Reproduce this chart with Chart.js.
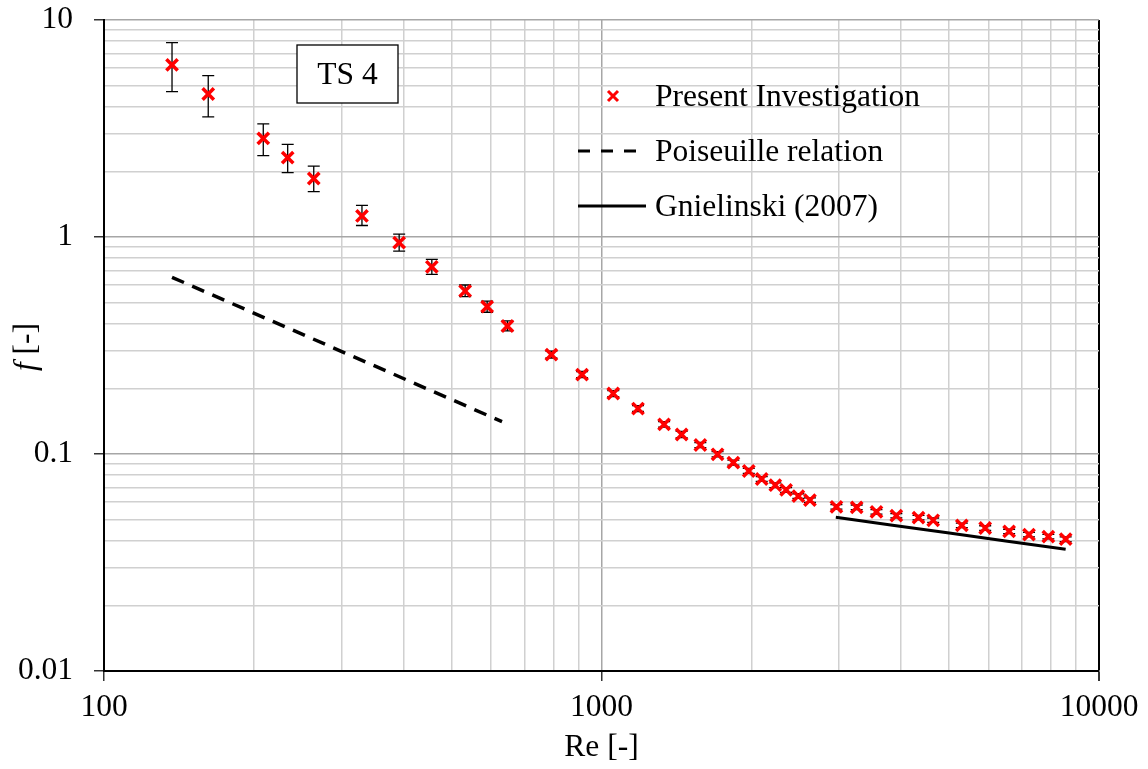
<!DOCTYPE html>
<html>
<head>
<meta charset="utf-8">
<script src="https://cdn.jsdelivr.net/npm/chart.js@4.4.1/dist/chart.umd.min.js"></script>
<style>
    body { margin: 0; background: #fff; }
    #wrap { width: 1148px; height: 769px; }
</style>
</head>
<body>
<div id="wrap"><canvas id="chart" width="1148" height="769"></canvas></div>
<script>
// данные
const reValues = [137, 162, 209, 234, 264, 330, 392, 456, 532, 589, 647, 793, 914, 1056, 1184, 1336, 1449, 1580, 1711, 1841,
    1977, 2099, 2235, 2350, 2487, 2624, 2966, 3258, 3570, 3914, 4337, 4642, 5300, 5905, 6597, 7233, 7910, 8570];
const fValues = [6.21, 4.56, 2.85, 2.32, 1.86, 1.25, 0.942, 0.729, 0.564, 0.478, 0.389, 0.287, 0.232, 0.190, 0.162, 0.137, 0.123, 0.110, 0.0997, 0.0912,
    0.0835, 0.0767, 0.0718, 0.0683, 0.0640, 0.0613, 0.0571, 0.0568, 0.0541, 0.0520, 0.0509, 0.0495, 0.0469, 0.0456, 0.0440, 0.0425, 0.0416, 0.0405];
const fUpper = [7.86, 5.54, 3.32, 2.67, 2.12, 1.40, 1.03, 0.789, 0.601, 0.506, 0.411, 0.298, 0.240, 0.196, 0.167, 0.141, 0.127, 0.113, 0.1025, 0.0937,
    0.0858, 0.0787, 0.0736, 0.0700, 0.0656, 0.0628, 0.0585, 0.0582, 0.0554, 0.0532, 0.0521, 0.0507, 0.0480, 0.0467, 0.0450, 0.0435, 0.0426, 0.0415];
const fLower = [4.68, 3.58, 2.37, 1.98, 1.62, 1.13, 0.861, 0.673, 0.531, 0.450, 0.369, 0.277, 0.225, 0.184, 0.157, 0.133, 0.119, 0.107, 0.0970, 0.0888,
    0.0814, 0.0748, 0.0700, 0.0666, 0.0625, 0.0598, 0.0557, 0.0554, 0.0528, 0.0508, 0.0497, 0.0484, 0.0458, 0.0445, 0.0430, 0.0415, 0.0406, 0.0395];

const poiseuilleRe = [137, 631];
const poiseuilleF = [0.652, 0.141];

const gnielinskiRe = [2958, 5000, 8570];
const gnielinskiF = [0.0511, 0.0432, 0.0364];

const xTickLabels = [100, 1000, 10000];
const yTickLabels = [0.01, 0.1, 1, 10];

const FONT = "'Liberation Serif', 'Times New Roman', serif";
const FSIZE = 31.5;

// тики логарифмической шкалы: 1..9 на каждую декаду
function logTicks(min, max) {
    const ticks = [];
    for (let dec = min; dec < max; dec *= 10) {
        for (let k = 1; k < 10; k++) {
            ticks.push({value: +(dec * k).toPrecision(6)});
        }
    }
    ticks.push({value: max});
    return ticks;
}

function isMajor(v, list) {
    return list.some(t => Math.abs(t - v) / t < 1e-6);
}

// планки погрешностей
const errorBarsPlugin = {
    id: 'errorBars',
    beforeDatasetsDraw(chart) {
        const ctx = chart.ctx;
        const xs = chart.scales.x;
        const ys = chart.scales.y;
        ctx.save();
        ctx.strokeStyle = '#000';
        ctx.lineWidth = 1.3;
        reValues.forEach((re, i) => {
            const x = xs.getPixelForValue(re);
            const yTop = ys.getPixelForValue(fUpper[i]);
            const yBot = ys.getPixelForValue(fLower[i]);
            ctx.beginPath();
            ctx.moveTo(x, yTop);
            ctx.lineTo(x, yBot);
            ctx.moveTo(x - 6, yTop);
            ctx.lineTo(x + 6, yTop);
            ctx.moveTo(x - 6, yBot);
            ctx.lineTo(x + 6, yBot);
            ctx.stroke();
        });
        ctx.restore();
    }
};

// легенда, надпись TS 4 и подпись оси Y
const annotationsPlugin = {
    id: 'annotations',
    afterDraw(chart) {
        const ctx = chart.ctx;
        ctx.save();
        ctx.font = FSIZE + 'px ' + FONT;
        ctx.fillStyle = '#000';
        ctx.textBaseline = 'middle';

        // рамка TS 4
        ctx.fillStyle = '#fff';
        ctx.fillRect(297, 45, 101, 58);
        ctx.strokeStyle = '#000';
        ctx.lineWidth = 1.3;
        ctx.strokeRect(297, 45, 101, 58);
        ctx.fillStyle = '#000';
        ctx.textAlign = 'center';
        ctx.fillText('TS 4', 347.5, 76);

        // легенда
        ctx.textAlign = 'left';
        ctx.fillText('Present Investigation', 655, 98);
        ctx.fillText('Poiseuille relation', 655, 153);
        ctx.fillText('Gnielinski (2007)', 655, 208);

        ctx.strokeStyle = '#ff0000';
        ctx.lineWidth = 3;
        ctx.beginPath();
        ctx.moveTo(608, 91); ctx.lineTo(618, 101);
        ctx.moveTo(618, 91); ctx.lineTo(608, 101);
        ctx.stroke();

        ctx.strokeStyle = '#000';
        ctx.lineWidth = 3;
        ctx.setLineDash([12, 11]);
        ctx.beginPath();
        ctx.moveTo(578, 151); ctx.lineTo(646, 151);
        ctx.stroke();
        ctx.setLineDash([]);
        ctx.beginPath();
        ctx.moveTo(578, 206); ctx.lineTo(646, 206);
        ctx.stroke();

        // подпись оси Y: курсивная f + [-]
        ctx.translate(27, 347);
        ctx.rotate(-Math.PI / 2);
        const italic = 'italic ' + FSIZE + 'px ' + FONT;
        const normal = FSIZE + 'px ' + FONT;
        ctx.font = italic;
        const w1 = ctx.measureText('f').width;
        ctx.font = normal;
        const w2 = ctx.measureText(' [-]').width;
        let x0 = -(w1 + w2) / 2;
        ctx.textAlign = 'left';
        ctx.font = italic;
        ctx.fillText('f', x0, 0);
        ctx.font = normal;
        ctx.fillText(' [-]', x0 + w1, 0);
        ctx.restore();
    }
};

const ctx = document.getElementById('chart').getContext('2d');

new Chart(ctx, {
    type: 'scatter',
    data: {
        datasets: [
            {
                label: 'Present Investigation',
                data: reValues.map((re, i) => ({x: re, y: fValues[i]})),
                pointStyle: 'crossRot',
                pointRadius: 8,
                pointBorderWidth: 3.5,
                borderColor: '#ff0000',
                backgroundColor: '#ff0000',
                showLine: false,
                order: 0
            },
            {
                label: 'Poiseuille relation',
                data: poiseuilleRe.map((re, i) => ({x: re, y: poiseuilleF[i]})),
                showLine: true,
                borderColor: '#000',
                borderWidth: 3.5,
                borderDash: [13, 9],
                pointRadius: 0,
                order: 1
            },
            {
                label: 'Gnielinski (2007)',
                data: gnielinskiRe.map((re, i) => ({x: re, y: gnielinskiF[i]})),
                showLine: true,
                borderColor: '#000',
                borderWidth: 3,
                pointRadius: 0,
                tension: 0.3,
                order: 1
            }
        ]
    },
    options: {
        responsive: false,
        animation: false,
        layout: {padding: {top: 20, right: 49, left: 0, bottom: 0}},
        plugins: {
            legend: {display: false},
            tooltip: {enabled: false}
        },
        scales: {
            x: {
                type: 'logarithmic',
                min: 100,
                max: 10000,
                afterBuildTicks: (scale) => { scale.ticks = logTicks(100, 10000); },
                afterFit: (scale) => {
                    scale.height = 98;
                    scale.paddingLeft = 0;
                    scale.paddingRight = 0;
                },
                border: {color: '#000', width: 2},
                grid: {
                    color: (c) => {
                        const v = c.tick ? c.tick.value : 0;
                        if (v === 10000) return '#000';
                        return isMajor(v, xTickLabels) ? '#a6a6a6' : '#d0d0d0';
                    },
                    lineWidth: (c) => (c.tick && c.tick.value === 10000) ? 2 : 1.5,
                    tickLength: 10,
                    tickColor: (c) => (c.tick && isMajor(c.tick.value, xTickLabels)) ? '#333' : 'rgba(0,0,0,0)'
                },
                ticks: {
                    autoSkip: false,
                    maxRotation: 0,
                    padding: 8,
                    color: '#000',
                    font: {family: FONT, size: FSIZE},
                    callback: (v) => isMajor(v, xTickLabels) ? String(v) : ''
                },
                title: {
                    display: true,
                    text: 'Re [-]',
                    color: '#000',
                    font: {family: FONT, size: FSIZE},
                    padding: {top: 0, bottom: 2}
                }
            },
            y: {
                type: 'logarithmic',
                min: 0.01,
                max: 10,
                afterBuildTicks: (scale) => { scale.ticks = logTicks(0.01, 10); },
                afterFit: (scale) => {
                    scale.width = 104;
                    scale.paddingTop = 0;
                    scale.paddingBottom = 0;
                },
                border: {color: '#000', width: 2},
                grid: {
                    color: (c) => {
                        const v = c.tick ? c.tick.value : 0;
                        return isMajor(v, yTickLabels) ? '#a6a6a6' : '#d0d0d0';
                    },
                    lineWidth: 1.5,
                    tickLength: 10,
                    tickColor: (c) => (c.tick && isMajor(c.tick.value, yTickLabels)) ? '#333' : 'rgba(0,0,0,0)'
                },
                ticks: {
                    autoSkip: false,
                    padding: 21,
                    color: '#000',
                    font: {family: FONT, size: FSIZE},
                    callback: (v) => isMajor(v, yTickLabels) ? String(v) : ''
                }
            }
        }
    },
    plugins: [errorBarsPlugin, annotationsPlugin]
});
</script>
</body>
</html>
